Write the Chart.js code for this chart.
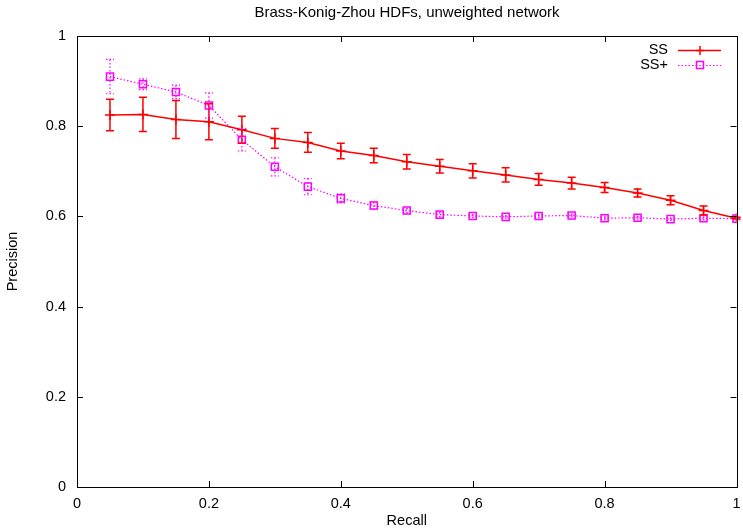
<!DOCTYPE html>
<html>
<head>
<meta charset="utf-8">
<script src="https://cdn.jsdelivr.net/npm/chart.js@4"></script>
<style>
  html, body { margin: 0; padding: 0; background: #fff; }
  #wrap { width: 743px; height: 530px; }
</style>
</head>
<body>
<div id="wrap"><canvas id="prChart" width="743" height="530"></canvas></div>
<script>
const recall = [0.05, 0.1, 0.15, 0.2, 0.25, 0.3, 0.35, 0.4, 0.45, 0.5, 0.55, 0.6, 0.65, 0.7, 0.75, 0.8, 0.85, 0.9, 0.95, 1.0];

const ssPrecision = [0.825, 0.826, 0.815, 0.810, 0.792, 0.773, 0.764, 0.745, 0.735, 0.721, 0.711, 0.701, 0.692, 0.682, 0.674, 0.664, 0.652, 0.636, 0.613, 0.596];
const ssError = [0.035, 0.038, 0.042, 0.040, 0.030, 0.022, 0.022, 0.017, 0.016, 0.016, 0.015, 0.016, 0.016, 0.013, 0.013, 0.011, 0.009, 0.010, 0.010, 0.002];

const ssPlusPrecision = [0.910, 0.893, 0.876, 0.846, 0.770, 0.710, 0.666, 0.640, 0.624, 0.613, 0.604, 0.601, 0.599, 0.601, 0.602, 0.596, 0.597, 0.594, 0.596, 0.595];
const ssPlusError = [0.038, 0.012, 0.015, 0.028, 0.025, 0.020, 0.018, 0.010, 0.008, 0.005, 0.005, 0.003, 0.003, 0.003, 0.003, 0.003, 0.003, 0.003, 0.003, 0.003];

const xTicks = [0, 0.2, 0.4, 0.6, 0.8, 1];
const yTicks = [0, 0.2, 0.4, 0.6, 0.8, 1];

const FONT = '"Liberation Sans", Arial, sans-serif';
const FSIZE = 14.5;

const toPoints = (xs, ys) => xs.map((x, i) => ({ x: x, y: ys[i] }));

// error bars, drawn from the y scale
const errorBars = {
    id: 'errorBars',
    afterDatasetsDraw(chart) {
        const ctx = chart.ctx;
        const yScale = chart.scales.y;
        chart.data.datasets.forEach((ds, di) => {
            const meta = chart.getDatasetMeta(di);
            ctx.save();
            ctx.strokeStyle = ds.borderColor;
            ctx.lineWidth = ds.errWidth;
            ctx.setLineDash(ds.borderDash || []);
            meta.data.forEach((pt, i) => {
                const v = ds.data[i].y;
                const e = ds.errors[i];
                const yTop = yScale.getPixelForValue(v + e);
                const yBot = yScale.getPixelForValue(v - e);
                ctx.beginPath();
                ctx.moveTo(pt.x, yTop);
                ctx.lineTo(pt.x, yBot);
                ctx.moveTo(pt.x - 4, yTop);
                ctx.lineTo(pt.x + 4, yTop);
                ctx.moveTo(pt.x - 4, yBot);
                ctx.lineTo(pt.x + 4, yBot);
                ctx.stroke();
            });
            ctx.restore();
        });
    }
};

// gnuplot style frame, inward ticks, title and key
const frame = {
    id: 'frame',
    afterDraw(chart) {
        const ctx = chart.ctx;
        const a = chart.chartArea;
        const xs = chart.scales.x, ys = chart.scales.y;
        ctx.save();
        ctx.strokeStyle = '#000';
        ctx.lineWidth = 1;
        ctx.beginPath();
        xTicks.forEach(t => {
            const px = Math.round(xs.getPixelForValue(t)) + 0.5;
            ctx.moveTo(px, a.bottom); ctx.lineTo(px, a.bottom - 6);
            ctx.moveTo(px, a.top); ctx.lineTo(px, a.top + 6);
        });
        yTicks.forEach(t => {
            const py = Math.round(ys.getPixelForValue(t)) + 0.5;
            ctx.moveTo(a.left, py); ctx.lineTo(a.left + 6, py);
            ctx.moveTo(a.right, py); ctx.lineTo(a.right - 6, py);
        });
        ctx.stroke();
        ctx.strokeRect(Math.round(a.left) + 0.5, Math.round(a.top) + 0.5,
            Math.round(a.right - a.left), Math.round(a.bottom - a.top));

        // title
        ctx.fillStyle = '#000';
        ctx.font = '15px ' + FONT;
        ctx.textAlign = 'center';
        ctx.textBaseline = 'middle';
        ctx.fillText('Brass-Konig-Zhou HDFs, unweighted network', 407, 13);

        // key
        const keys = [
            { label: 'SS', y: 50, ds: chart.data.datasets[0] },
            { label: 'SS+', y: 65, ds: chart.data.datasets[1] }
        ];
        ctx.font = FSIZE + 'px ' + FONT;
        ctx.textAlign = 'right';
        keys.forEach(k => {
            ctx.fillStyle = '#000';
            ctx.fillText(k.label, 668, k.y);
            ctx.strokeStyle = k.ds.borderColor;
            ctx.lineWidth = k.ds.borderWidth;
            ctx.setLineDash(k.ds.borderDash || []);
            ctx.beginPath();
            ctx.moveTo(678, k.y + 0.5);
            ctx.lineTo(721, k.y + 0.5);
            ctx.stroke();
            ctx.setLineDash([]);
            ctx.lineWidth = k.ds.pointBorderWidth;
            ctx.beginPath();
            if (k.ds.pointStyle === 'cross') {
                ctx.moveTo(700, k.y - 4); ctx.lineTo(700, k.y + 5);
                ctx.moveTo(696, k.y + 0.5); ctx.lineTo(704, k.y + 0.5);
            } else {
                ctx.rect(696.5, k.y - 3.5, 7, 7);
            }
            ctx.stroke();
        });
        ctx.restore();
    }
};

const ctx = document.getElementById('prChart').getContext('2d');
new Chart(ctx, {
    type: 'line',
    data: {
        datasets: [{
            label: 'SS',
            data: toPoints(recall, ssPrecision),
            errors: ssError,
            errWidth: 1.5,
            borderColor: '#ff0000',
            borderWidth: 1.5,
            pointStyle: 'cross',
            pointRadius: 5,
            pointBorderWidth: 1.5,
            pointBorderColor: '#ff0000',
            tension: 0,
            fill: false
        }, {
            label: 'SS+',
            data: toPoints(recall, ssPlusPrecision),
            errors: ssPlusError,
            errWidth: 1.2,
            borderColor: '#ff00ff',
            borderWidth: 1.2,
            borderDash: [1.5, 2],
            pointStyle: 'rect',
            pointRadius: 5,
            pointBorderWidth: 1.5,
            pointBorderColor: '#ff00ff',
            pointBackgroundColor: 'rgba(0,0,0,0)',
            tension: 0,
            fill: false
        }]
    },
    options: {
        responsive: false,
        animation: false,
        layout: { padding: { top: 36, right: 1, left: 0, bottom: 0 } },
        plugins: {
            legend: { display: false },
            tooltip: { enabled: false },
            title: { display: false }
        },
        scales: {
            x: {
                type: 'linear',
                min: 0,
                max: 1,
                grid: { display: false, drawTicks: false },
                border: { display: false },
                afterBuildTicks: s => { s.ticks = xTicks.map(v => ({ value: v })); },
                afterFit: s => { s.height = 43; s.paddingLeft = 0; s.paddingRight = 0; },
                ticks: {
                    color: '#000',
                    padding: 8,
                    maxRotation: 0,
                    font: { family: FONT, size: FSIZE },
                    callback: v => String(v)
                },
                title: {
                    display: true,
                    text: 'Recall',
                    color: '#000',
                    font: { family: FONT, size: FSIZE },
                    padding: { top: 0, bottom: 0 }
                }
            },
            y: {
                type: 'linear',
                min: 0,
                max: 1,
                grid: { display: false, drawTicks: false },
                border: { display: false },
                afterBuildTicks: s => { s.ticks = yTicks.map(v => ({ value: v })); },
                afterFit: s => { s.width = 77; s.paddingTop = 0; s.paddingBottom = 0; },
                ticks: {
                    color: '#000',
                    padding: 11,
                    font: { family: FONT, size: FSIZE },
                    callback: v => String(v)
                },
                title: {
                    display: true,
                    text: 'Precision',
                    color: '#000',
                    font: { family: FONT, size: FSIZE },
                    padding: { top: 4, bottom: 0 }
                }
            }
        }
    },
    plugins: [errorBars, frame]
});
</script>
</body>
</html>
